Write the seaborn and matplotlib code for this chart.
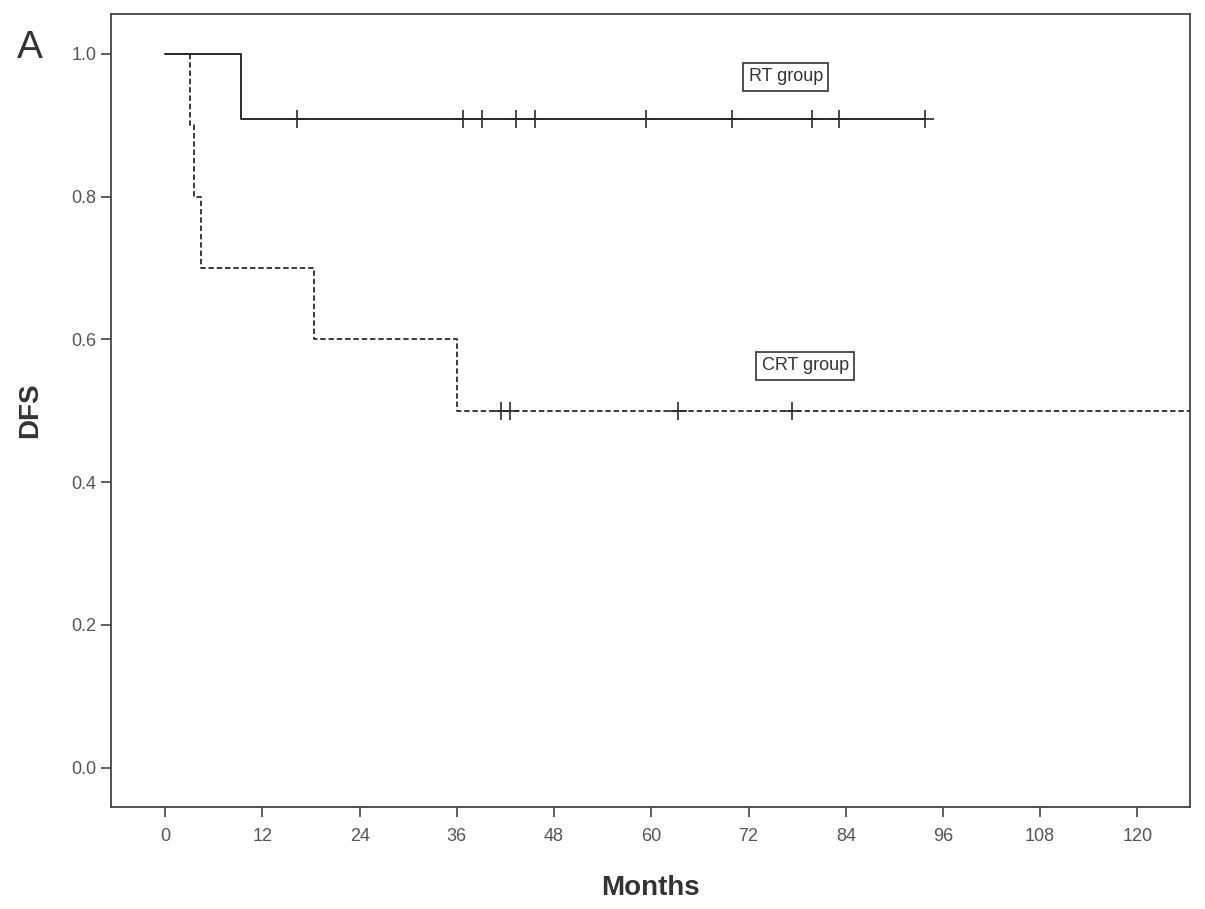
import numpy as np
import pandas as pd
import matplotlib
matplotlib.use('Agg')
import matplotlib.pyplot as plt
import seaborn as sns

# Kaplan-Meier step values (months, DFS)
rt_times = [0, 9.3, 93.8]
rt_surv = [1.0, 0.909, 0.909]
rt_censor_times = [16.3, 36.8, 39.1, 43.3, 45.7, 59.3, 69.9, 79.8, 83.2, 93.8]
rt_censor_surv = [0.909] * len(rt_censor_times)

crt_times = [0, 3.0, 3.5, 4.4, 18.4, 36.0, 130]
crt_surv = [1.0, 0.9, 0.8, 0.7, 0.6, 0.5, 0.5]
crt_censor_times = [41.5, 42.5, 63.3, 77.4]
crt_censor_surv = [0.5] * len(crt_censor_times)

x_ticks = [0, 12, 24, 36, 48, 60, 72, 84, 96, 108, 120]
y_ticks = [0.0, 0.2, 0.4, 0.6, 0.8, 1.0]

sns.set_style('white')
plt.rcParams['font.family'] = ['Liberation Sans', 'DejaVu Sans']

fig = plt.figure(figsize=(12.05, 9.09), dpi=100)
ax = fig.add_axes([0.0921, 0.1122, 0.8955, 0.8724])

line_col = '#2b2b2b'
rt = pd.DataFrame({'t': rt_times, 's': rt_surv})
crt = pd.DataFrame({'t': crt_times, 's': crt_surv})

sns.lineplot(data=rt, x='t', y='s', drawstyle='steps-post', estimator=None,
             sort=False, color=line_col, linewidth=1.4, ax=ax)
sns.lineplot(data=crt, x='t', y='s', drawstyle='steps-post', estimator=None,
             sort=False, color=line_col, linewidth=1.3, ax=ax)
ax.lines[-1].set_dashes([3, 1.6])

sns.scatterplot(x=rt_censor_times, y=rt_censor_surv, marker='+', s=160,
                color=line_col, linewidth=1.2, ax=ax, zorder=3)
sns.scatterplot(x=crt_censor_times, y=crt_censor_surv, marker='+', s=160,
                color=line_col, linewidth=1.2, ax=ax, zorder=3)

box = dict(boxstyle='square,pad=0.3', facecolor='white', edgecolor='#333333', linewidth=1.2)
ax.text(76.6, 0.968, 'RT group', fontsize=13, color='#333333', ha='center', va='center', bbox=box)
ax.text(79.0, 0.563, 'CRT group', fontsize=13, color='#333333', ha='center', va='center', bbox=box)

ax.set_xlim(-6.7, 126.5)
ax.set_ylim(-0.055, 1.056)
ax.set_xticks(x_ticks)
ax.set_yticks(y_ticks)
ax.set_xticklabels([str(v) for v in x_ticks])
ax.set_yticklabels([f'{v:.1f}' for v in y_ticks])
ax.tick_params(axis='both', direction='out', length=7, width=1.2, color='#444444',
               labelsize=13, labelcolor='#555555', bottom=True, left=True)
ax.tick_params(axis='x', pad=8)
for sp in ax.spines.values():
    sp.set_color('#444444')
    sp.set_linewidth(1.3)

ax.set_xlabel('Months', fontsize=20, fontweight='bold', color='#333333', labelpad=22)
ax.set_ylabel('DFS', fontsize=20, fontweight='bold', color='#333333', labelpad=20)

fig.text(0.025, 0.947, 'A', fontsize=28, color='#333333', ha='center', va='center')

plt.savefig('out.png', dpi=100)
